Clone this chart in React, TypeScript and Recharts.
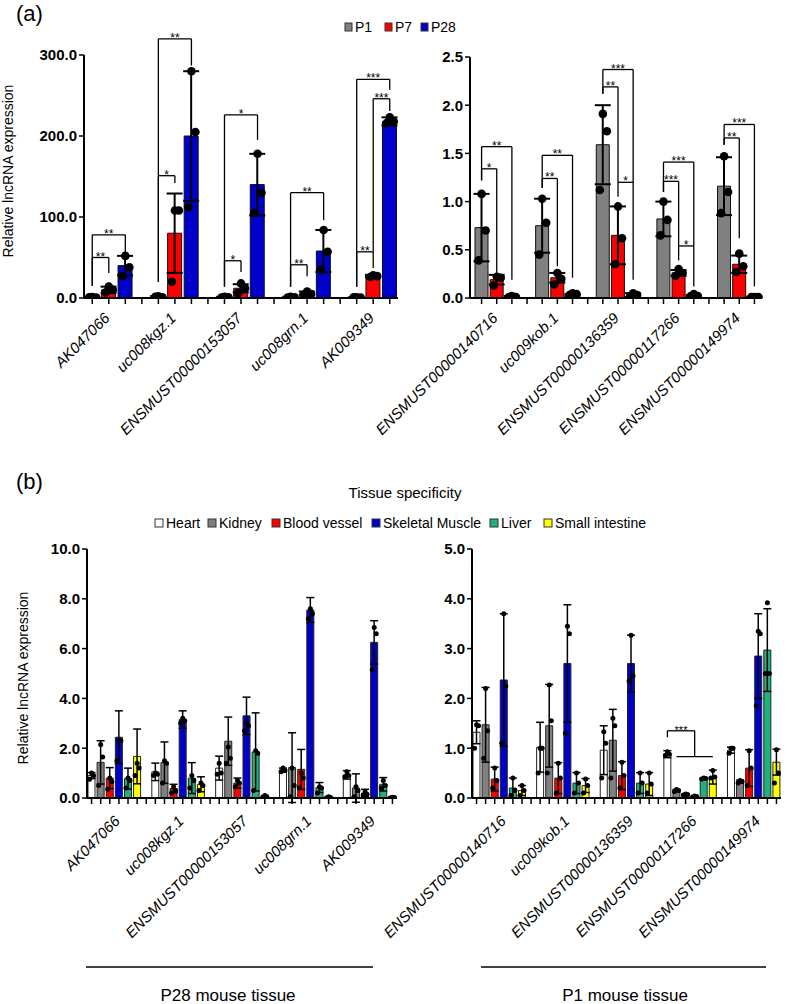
import React from 'react';
import { ComposedChart, Bar, Cell, XAxis, YAxis, ErrorBar, Line, ReferenceLine } from 'recharts';

const FONT = "'Liberation Sans', Arial, Helvetica, sans-serif";

// ---------- Panel (a): developmental stages ----------
const ageNames = ['P1', 'P7', 'P28'];
const ageColors = ['#808080', '#FF0000', '#0000CC'];

const aLeftCats = ['AK047066', 'uc008kgz.1', 'ENSMUST00000153057', 'uc008grn.1', 'AK009349'];
const aLeftP1 = [0.8, 1.5, 1.0, 1.0, 0.8];
const aLeftP7 = [10, 80, 12, 6, 27];
const aLeftP28 = [40, 200, 140, 58, 218];
const aLeftP1Err = [0.5, 1, 0.5, 0.5, 0.5];
const aLeftP7Err = [4, 49, 5, 2, 1.5];
const aLeftP28Err = [12, 80, 38, 26, 5];
const aLeftP1Dots = [[1.2, 0.5, 0.8], [2, 1, 1.5], [1.5, 0.8, 0.7], [1.5, 0.8, 0.7], [1.0, 0.7, 0.8]];
const aLeftP7Dots = [[14, 10, 7], [108, 108, 20], [18, 12, 6], [8, 5, 4], [28, 27, 26]];
const aLeftP28Dots = [[52, 38, 27], [280, 205, 112], [178, 130, 105], [84, 57, 35], [223, 218, 216]];
const aLeftTicks = [0, 100, 200, 300];
// significance brackets: group, bar a, bar b, bracket height, leg ends, stars
const aLeftBrackets = [
  { g: 0, a: 0, b: 1, y: 50, ya: 15, yb: 31, t: '**' },
  { g: 0, a: 0, b: 2, y: 78, ya: 15, yb: 56, t: '**' },
  { g: 1, a: 0, b: 1, y: 151, ya: 20, yb: 142, t: '*' },
  { g: 1, a: 0, b: 2, y: 320, ya: 20, yb: 287, t: '**' },
  { g: 2, a: 0, b: 1, y: 46, ya: 14, yb: 32, t: '*' },
  { g: 2, a: 0, b: 2, y: 226, ya: 14, yb: 195, t: '*' },
  { g: 3, a: 0, b: 1, y: 41, ya: 14, yb: 27, t: '**' },
  { g: 3, a: 0, b: 2, y: 130, ya: 14, yb: 96, t: '**' },
  { g: 4, a: 0, b: 1, y: 57, ya: 14, yb: 37, t: '**' },
  { g: 4, a: 1, b: 2, y: 246, ya: 57, yb: 231, t: '***' },
  { g: 4, a: 0, b: 2, y: 270, ya: 14, yb: 257, t: '***' },
];

const aRightCats = ['ENSMUST00000140716', 'uc009kob.1', 'ENSMUST00000136359', 'ENSMUST00000117266', 'ENSMUST00000149974'];
const aRightP1 = [0.73, 0.75, 1.59, 0.82, 1.16];
const aRightP7 = [0.19, 0.21, 0.65, 0.26, 0.35];
const aRightP28 = [0.01, 0.03, 0.03, 0.02, 0.01];
const aRightP1Err = [0.35, 0.28, 0.41, 0.18, 0.3];
const aRightP7Err = [0.05, 0.05, 0.3, 0.03, 0.09];
const aRightP28Err = [0.01, 0.01, 0.02, 0.01, 0.005];
const aRightP1Dots = [[1.08, 0.7, 0.39], [1.03, 0.78, 0.45], [1.91, 1.73, 1.12], [1.0, 0.81, 0.65], [1.47, 1.1, 0.88]];
const aRightP7Dots = [[0.22, 0.21, 0.13], [0.26, 0.2, 0.14], [0.95, 0.62, 0.35], [0.3, 0.26, 0.23], [0.46, 0.33, 0.27]];
const aRightP28Dots = [[0.02, 0.01, 0.01], [0.05, 0.04, 0.03], [0.05, 0.03, 0.02], [0.04, 0.02, 0.02], [0.01, 0.01, 0.01]];
const aRightTicks = [0, 0.5, 1.0, 1.5, 2.0, 2.5];
const aRightBrackets = [
  { g: 0, a: 0, b: 1, y: 1.34, ya: 1.22, yb: 0.26, t: '*' },
  { g: 0, a: 0, b: 2, y: 1.57, ya: 1.22, yb: 0.19, t: '**' },
  { g: 1, a: 0, b: 1, y: 1.24, ya: 1.14, yb: 0.33, t: '**' },
  { g: 1, a: 0, b: 2, y: 1.48, ya: 1.14, yb: 0.21, t: '**' },
  { g: 2, a: 0, b: 1, y: 2.19, ya: 2.12, yb: 1.05, t: '**' },
  { g: 2, a: 0, b: 2, y: 2.37, ya: 2.12, yb: 0.19, t: '***' },
  { g: 2, a: 1, b: 2, y: 1.2, ya: null, yb: null, t: '*' },
  { g: 3, a: 0, b: 1, y: 1.21, ya: 1.1, yb: 0.39, t: '***' },
  { g: 3, a: 0, b: 2, y: 1.41, ya: 1.1, yb: 0.12, t: '***' },
  { g: 3, a: 1, b: 2, y: 0.54, ya: null, yb: null, t: '*' },
  { g: 4, a: 0, b: 1, y: 1.66, ya: 1.59, yb: 0.62, t: '**' },
  { g: 4, a: 0, b: 2, y: 1.8, ya: 1.59, yb: 0.12, t: '***' },
];

// ---------- Panel (b): tissue specificity ----------
const tissueNames = ['Heart', 'Kidney', 'Blood vessel', 'Skeletal Muscle', 'Liver', 'Small intestine'];
const tissueColors = ['#FFFFFF', '#808080', '#FF0000', '#0000CC', '#20B27C', '#FFFF00'];

const bLeftCats = ['AK047066', 'uc008kgz.1', 'ENSMUST00000153057', 'uc008grn.1', 'AK009349'];
const bLeftHeart = [0.9, 1.05, 1.2, 1.12, 0.93];
const bLeftKidney = [1.43, 1.42, 2.28, 1.22, 0.4];
const bLeftVessel = [0.8, 0.38, 0.6, 1.15, 0.2];
const bLeftMuscle = [2.44, 3.15, 3.3, 7.55, 6.25];
const bLeftLiver = [0.78, 0.8, 1.85, 0.42, 0.55];
const bLeftIntestine = [1.67, 0.55, 0.05, 0.02, 0.02];
const bLeftHeartErr = [0.12, 0.35, 0.48, 0.08, 0.17];
const bLeftKidneyErr = [0.87, 0.83, 0.97, 1.4, 0.57];
const bLeftVesselErr = [0.42, 0.17, 0.2, 0.8, 0.15];
const bLeftMuscleErr = [1.06, 0.35, 0.75, 0.5, 0.87];
const bLeftLiverErr = [0.42, 0.62, 1.57, 0.2, 0.27];
const bLeftIntestineErr = [1.1, 0.3, 0.05, 0.03, 0.03];
const bLeftHeartDots = [[1.0, 0.9, 0.75], [1.0, 0.95, 0.9], [1.4, 1.0, 0.95], [1.2, 1.1, 1.05], [1.05, 0.9, 0.85]];
const bLeftKidneyDots = [[2.15, 1.65, 0.5], [1.5, 1.4, 0.6], [2.05, 1.6, 1.4], [1.2, 0.5, 0.05], [0.45, 0.3, 0.05]];
const bLeftVesselDots = [[0.8, 0.65, 0.35], [0.45, 0.3, 0.2], [0.7, 0.6, 0.45], [1.0, 0.8, 0.4], [0.25, 0.15, 0.1]];
const bLeftMuscleDots = [[2.3, 2.3, 1.5], [3.2, 3.1, 3.0], [3.0, 2.9, 2.7], [7.6, 7.4, 7.2], [6.85, 6.6, 5.15]];
const bLeftLiverDots = [[0.8, 0.7, 0.4], [0.9, 0.7, 0.4], [1.9, 1.8, 0.3], [0.45, 0.4, 0.2], [0.7, 0.5, 0.4]];
const bLeftIntestineDots = [[1.4, 1.2, 0.9], [0.6, 0.5, 0.3], [0.1, 0.05, 0.02], [0.05, 0.02, 0.01], [0.03, 0.02, 0.01]];
const bLeftTicks = [0, 2, 4, 6, 8, 10];

const bRightCats = ['ENSMUST00000140716', 'uc009kob.1', 'ENSMUST00000136359', 'ENSMUST00000117266', 'ENSMUST00000149974'];
const bRightHeart = [1.32, 1.02, 0.96, 0.88, 0.96];
const bRightKidney = [1.47, 1.45, 1.16, 0.15, 0.33];
const bRightVessel = [0.38, 0.4, 0.45, 0.07, 0.6];
const bRightMuscle = [2.37, 2.7, 2.7, 0.03, 2.85];
const bRightLiver = [0.2, 0.3, 0.3, 0.39, 2.97];
const bRightIntestine = [0.15, 0.25, 0.28, 0.42, 0.72];
const bRightHeartErr = [0.23, 0.5, 0.49, 0.07, 0.06];
const bRightKidneyErr = [0.75, 0.83, 0.62, 0.02, 0.03];
const bRightVesselErr = [0.24, 0.31, 0.28, 0.01, 0.37];
const bRightMuscleErr = [1.33, 1.18, 0.57, 0.01, 0.85];
const bRightLiverErr = [0.2, 0.21, 0.21, 0.01, 0.83];
const bRightIntestineErr = [0.1, 0.14, 0.23, 0.14, 0.26];
const bRightHeartDots = [[1.47, 1.45, 1.0], [1.0, 1.0, 0.5], [1.33, 1.1, 0.4], [0.93, 0.88, 0.86], [1.0, 1.0, 0.9]];
const bRightKidneyDots = [[2.2, 1.35, 0.8], [2.27, 1.55, 0.5], [1.6, 1.45, 0.4], [0.17, 0.15, 0.13], [0.35, 0.33, 0.3]];
const bRightVesselDots = [[0.6, 0.35, 0.2], [0.7, 0.4, 0.1], [0.72, 0.45, 0.2], [0.08, 0.07, 0.06], [0.95, 0.6, 0.25]];
const bRightMuscleDots = [[3.7, 2.25, 1.1], [3.45, 3.3, 1.3], [3.27, 2.45, 2.35], [0.04, 0.03, 0.02], [3.35, 3.3, 1.85]];
const bRightLiverDots = [[0.4, 0.15, 0.05], [0.5, 0.3, 0.1], [0.5, 0.3, 0.1], [0.4, 0.39, 0.38], [3.92, 2.5, 2.5]];
const bRightIntestineDots = [[0.25, 0.15, 0.05], [0.38, 0.25, 0.1], [0.5, 0.28, 0.1], [0.55, 0.42, 0.4], [0.97, 0.5, 0.3]];
const bRightTicks = [0, 1, 2, 3, 4, 5];
const bRightBrackets = [{ g: 3, a: 0, b: 3, y: 1.35, ya: 1.22, yb: 0.83, t: '***' }];
const bRightLines = [{ g: 3, a: 1, b: 5, y: 0.83 }];

type Row = {
  key: string; label: string; v: number | null; e: number | null;
  d1: number | null; d2: number | null; d3: number | null; fill: string;
};

function buildRows(cats: string[], means: number[][], errs: number[][], dots: number[][][], colors: string[], labelSlot: number): Row[] {
  const rows: Row[] = [];
  cats.forEach((c, g) => {
    means.forEach((m, s) => {
      const d = dots[s][g];
      rows.push({ key: `${g}-${s}`, label: s === labelSlot ? c : '', v: m[g], e: errs[s][g], d1: d[0], d2: d[1], d3: d[2], fill: colors[s] });
    });
    if (g < cats.length - 1) {
      rows.push({ key: `${g}-gap`, label: '', v: null, e: null, d1: null, d2: null, d3: null, fill: 'none' });
    }
  });
  return rows;
}

const aLeftRows = buildRows(aLeftCats, [aLeftP1, aLeftP7, aLeftP28], [aLeftP1Err, aLeftP7Err, aLeftP28Err], [aLeftP1Dots, aLeftP7Dots, aLeftP28Dots], ageColors, 1);
const aRightRows = buildRows(aRightCats, [aRightP1, aRightP7, aRightP28], [aRightP1Err, aRightP7Err, aRightP28Err], [aRightP1Dots, aRightP7Dots, aRightP28Dots], ageColors, 1);
const bLeftRows = buildRows(
  bLeftCats,
  [bLeftHeart, bLeftKidney, bLeftVessel, bLeftMuscle, bLeftLiver, bLeftIntestine],
  [bLeftHeartErr, bLeftKidneyErr, bLeftVesselErr, bLeftMuscleErr, bLeftLiverErr, bLeftIntestineErr],
  [bLeftHeartDots, bLeftKidneyDots, bLeftVesselDots, bLeftMuscleDots, bLeftLiverDots, bLeftIntestineDots],
  tissueColors, 3);
const bRightRows = buildRows(
  bRightCats,
  [bRightHeart, bRightKidney, bRightVessel, bRightMuscle, bRightLiver, bRightIntestine],
  [bRightHeartErr, bRightKidneyErr, bRightVesselErr, bRightMuscleErr, bRightLiverErr, bRightIntestineErr],
  [bRightHeartDots, bRightKidneyDots, bRightVesselDots, bRightMuscleDots, bRightLiverDots, bRightIntestineDots],
  tissueColors, 3);

type Bracket = { g: number; a: number; b: number; y: number; ya: number | null; yb: number | null; t: string };
type PlainLine = { g: number; a: number; b: number; y: number };

type PanelProps = {
  rows: Row[]; brackets: Bracket[]; lines?: PlainLine[];
  left: number; top: number; width: number; height: number;
  margin: { top: number; right: number; bottom: number; left: number };
  yWidth: number; domain: [number, number]; ticks: number[]; decimals: number;
  barSize: number; dotR: number; capW: number; errW: number; labelDx: number; labelDy: number; padLeft: number;
  starSize: number; jitter: number[]; barStroke: string;
};

function Panel(p: PanelProps) {
  const labelMap: Record<string, string> = {};
  p.rows.forEach((r) => { labelMap[r.key] = r.label; });
  const renderTick = (t: any) => {
    const lab = labelMap[t.payload?.value];
    if (!lab) return <g />;
    const ax = t.x + p.labelDx;
    const ay = t.y + p.labelDy;
    return (
      <text x={ax} y={ay} textAnchor="end" fontStyle="italic" fontSize={15} fontFamily={FONT} fill="#000"
        transform={`rotate(-45 ${ax} ${ay})`}>{lab}</text>
    );
  };
  const mkDot = (off: number, name: string) => (d: any) => {
    const k = `${name}-${d.index}`;
    if (d.cy == null || Number.isNaN(d.cy) || d.value == null) return <g key={k} />;
    return <circle key={k} cx={d.cx + off} cy={d.cy} r={p.dotR} fill="#000" />;
  };
  const lineStyle = { stroke: '#000', strokeWidth: 1.3 };
  const refs: React.ReactNode[] = [];
  p.brackets.forEach((b, i) => {
    const ka = `${b.g}-${b.a}`;
    const kb = `${b.g}-${b.b}`;
    refs.push(
      <ReferenceLine key={`h${i}`} segment={[{ x: ka, y: b.y }, { x: kb, y: b.y }]} {...lineStyle} ifOverflow="visible"
        label={{ value: b.t, position: 'top', fontSize: p.starSize, fill: '#000', offset: -3, fontFamily: FONT }} />
    );
    if (b.ya != null) refs.push(<ReferenceLine key={`la${i}`} segment={[{ x: ka, y: b.ya }, { x: ka, y: b.y }]} {...lineStyle} ifOverflow="visible" />);
    if (b.yb != null) refs.push(<ReferenceLine key={`lb${i}`} segment={[{ x: kb, y: b.yb }, { x: kb, y: b.y }]} {...lineStyle} ifOverflow="visible" />);
  });
  (p.lines || []).forEach((l, i) => {
    refs.push(<ReferenceLine key={`pl${i}`} segment={[{ x: `${l.g}-${l.a}`, y: l.y }, { x: `${l.g}-${l.b}`, y: l.y }]} {...lineStyle} ifOverflow="visible" />);
  });
  return (
    <div style={{ position: 'absolute', left: p.left, top: p.top, width: p.width, height: p.height }}>
      <ComposedChart width={p.width} height={p.height} data={p.rows} margin={p.margin}>
        <XAxis dataKey="key" type="category" interval={0} height={30} tick={renderTick}
          axisLine={{ stroke: '#000', strokeWidth: 2 }} tickLine={{ stroke: '#000', strokeWidth: 1.5 }} tickSize={6}
          padding={{ left: p.padLeft, right: 0 }} />
        <YAxis type="number" domain={p.domain} ticks={p.ticks} width={p.yWidth} interval={0} allowDataOverflow
          tickFormatter={(v: number) => v.toFixed(p.decimals)}
          axisLine={{ stroke: '#000', strokeWidth: 2 }} tickLine={{ stroke: '#000', strokeWidth: 1.5 }} tickSize={5}
          tick={{ fill: '#000', fontSize: 15, fontWeight: 'bold', fontFamily: FONT }} />
        <Bar dataKey="v" barSize={p.barSize} stroke={p.barStroke} strokeWidth={1} isAnimationActive={false}>
          {p.rows.map((r) => <Cell key={r.key} fill={r.fill} />)}
          <ErrorBar dataKey="e" width={p.capW} stroke="#000" strokeWidth={p.errW} direction="y" />
        </Bar>
        <Line dataKey="d1" stroke="none" dot={mkDot(p.jitter[0], 'd1')} activeDot={false} legendType="none" isAnimationActive={false} />
        <Line dataKey="d2" stroke="none" dot={mkDot(p.jitter[1], 'd2')} activeDot={false} legendType="none" isAnimationActive={false} />
        <Line dataKey="d3" stroke="none" dot={mkDot(p.jitter[2], 'd3')} activeDot={false} legendType="none" isAnimationActive={false} />
        {refs}
      </ComposedChart>
    </div>
  );
}

const aLegendX = [345, 385, 421];
const bLegendX = [155, 208, 272, 372, 490, 544];

export default function App() {
  return (
    <div style={{ position: 'absolute', left: 0, top: 0, width: 787, height: 1004, background: '#fff', fontFamily: FONT, overflow: 'hidden' }}>
      <svg width={787} height={1004} style={{ position: 'absolute', left: 0, top: 0 }} fontFamily={FONT}>
        <text x={16} y={21} fontSize={22} fill="#000">(a)</text>
        {ageNames.map((n, i) => (
          <g key={n}>
            <rect x={aLegendX[i]} y={23} width={7} height={8} fill={ageColors[i]} stroke="#333" strokeWidth={1} />
            <text x={aLegendX[i] + 10} y={32} fontSize={14} fill="#000">{n}</text>
          </g>
        ))}
        <text x={13} y={171} fontSize={14} fill="#000" textAnchor="middle" transform="rotate(-90 13 171)">Relative lncRNA expression</text>

        <text x={16} y={489} fontSize={22} fill="#000">(b)</text>
        <text x={405} y={498} fontSize={15} fill="#000" textAnchor="middle">Tissue specificity</text>
        {tissueNames.map((n, i) => (
          <g key={n}>
            <rect x={bLegendX[i]} y={519} width={8} height={8} fill={tissueColors[i]} stroke="#333" strokeWidth={1} />
            <text x={bLegendX[i] + 11} y={528} fontSize={14} fill="#000">{n}</text>
          </g>
        ))}
        <text x={28} y={678} fontSize={14} fill="#000" textAnchor="middle" transform="rotate(-90 28 678)">Relative lncRNA expression</text>

        <line x1={86} y1={967} x2={373} y2={967} stroke="#000" strokeWidth={1.5} />
        <line x1={481} y1={967} x2={766} y2={967} stroke="#000" strokeWidth={1.5} />
        <text x={228} y={1001} fontSize={17} fill="#000" textAnchor="middle">P28 mouse tissue</text>
        <text x={625} y={1001} fontSize={17} fill="#000" textAnchor="middle">P1 mouse tissue</text>
      </svg>

      <Panel rows={aLeftRows} brackets={aLeftBrackets} left={0} top={0} width={402} height={470}
        margin={{ top: 55, right: 4, bottom: 142, left: 0 }} yWidth={84} domain={[0, 300]} ticks={aLeftTicks} decimals={1}
        barSize={14} dotR={4.3} capW={8} errW={2} labelDx={2} labelDy={13} padLeft={0} starSize={12} jitter={[0, 4, -3]} barStroke="#111" />
      <Panel rows={aRightRows} brackets={aRightBrackets} left={300} top={0} width={470} height={470}
        margin={{ top: 57, right: 8, bottom: 142, left: 0 }} yWidth={170} domain={[0, 2.5]} ticks={aRightTicks} decimals={1}
        barSize={13} dotR={4.3} capW={8} errW={2} labelDx={2} labelDy={13} padLeft={4} starSize={12} jitter={[0, 4, -3]} barStroke="#111" />
      <Panel rows={bLeftRows} brackets={[]} left={0} top={480} width={400} height={480}
        margin={{ top: 69, right: 3, bottom: 132, left: 0 }} yWidth={87} domain={[0, 10]} ticks={bLeftTicks} decimals={1}
        barSize={7} dotR={2.5} capW={4} errW={1.5} labelDx={2} labelDy={16} padLeft={0} starSize={11} jitter={[0, 2, -2]} barStroke="#222" />
      <Panel rows={bRightRows} brackets={bRightBrackets} lines={bRightLines} left={300} top={480} width={487} height={480}
        margin={{ top: 69, right: 6, bottom: 132, left: 0 }} yWidth={172} domain={[0, 5]} ticks={bRightTicks} decimals={1}
        barSize={7} dotR={2.5} capW={4} errW={1.5} labelDx={3} labelDy={16} padLeft={0} starSize={11} jitter={[0, 2, -2]} barStroke="#222" />
    </div>
  );
}
